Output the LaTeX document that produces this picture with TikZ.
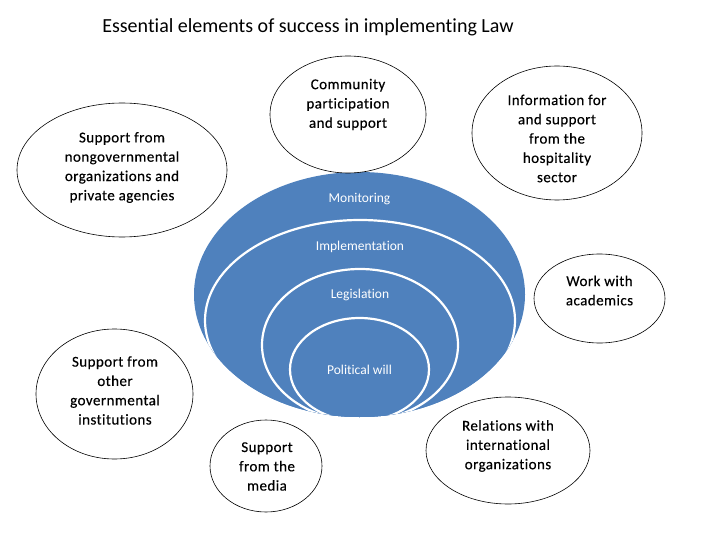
\documentclass[tikz,border=0pt]{standalone}
\usepackage{fontspec}
\setmainfont{Carlito}[Ligatures=NoCommon]
\newfontfamily\bubblefont{Carlito}[Ligatures=NoCommon,LetterSpace=3,FakeBold=0.3]
\usetikzlibrary{shapes.geometric,positioning}
\definecolor{layerblue}{RGB}{79,129,189}
\tikzset{
  bubble/.style={ellipse,draw=black,line width=0.6pt,fill=white,inner sep=0pt},
  btext/.style={align=center,font=\bubblefont\fontsize{15}{19.3}\selectfont,text=black},
  layer/.style={ellipse,fill=layerblue,draw=white,line width=2.2pt,inner sep=0pt},
  ltext/.style={font=\fontsize{13.5}{15}\selectfont,text=white},
}

\begin{document}
\begin{tikzpicture}[x=1pt,y=-1pt]
  \useasboundingbox (0,0) rectangle (720,540);
  \node[font=\fontsize{20}{22}\selectfont] (title) at (308,27) {Essential elements of success in implementing Law};

  % nested layers, all sitting on the same bottom
  \node[layer,draw=none,minimum width=331pt,minimum height=245pt] (mon) at (359.5,294.5) {};
  \begin{scope}
    \clip (359.5,294.5) ellipse (165.5pt and 122.5pt);
    \node[layer,minimum width=310pt,minimum height=201pt] (impl) at (360,320.5) {};
    \node[layer,minimum width=196pt,minimum height=152pt] (leg) at (360,345) {};
    \node[layer,minimum width=139pt,minimum height=103pt] (pol) at (359.5,369.5) {};
  \end{scope}
  \node[ltext,yshift=-28pt] (mon-t) at (mon.north) {Monitoring};
  \node[ltext,yshift=-28pt] (impl-t) at (impl.north) {Implementation};
  \node[ltext,yshift=-27pt] (leg-t) at (leg.north) {Legislation};
  \node[ltext] (pol-t) at (pol.center) {Political will};

  % surrounding bubbles
  \node[bubble,minimum width=210pt,minimum height=134pt] (ngo) at (122,170) {};
  \node[btext] (ngo-t) at (122,167.5) {Support from\\nongovernmental\\organizations and\\private agencies};
  \node[bubble,minimum width=156pt,minimum height=117pt] (comm) at (348,114.5) {};
  \node[btext] (comm-t) at (348,104.5) {Community\\participation\\and support};
  \node[bubble,minimum width=170pt,minimum height=134pt] (hosp) at (557,133) {};
  \node[btext] (hosp-t) at (557,138.5) {Information for\\and support\\from the\\hospitality\\sector};
  \node[bubble,minimum width=131pt,minimum height=89pt] (acad) at (599.5,298.5) {};
  \node[btext] (acad-t) at (599.5,290.5) {Work with\\academics};
  \node[bubble,minimum width=157pt,minimum height=130pt] (gov) at (114.5,394) {};
  \node[btext] (gov-t) at (115,390.5) {Support from\\other\\governmental\\institutions};
  \node[bubble,minimum width=112pt,minimum height=92pt] (media) at (266,466) {};
  \node[btext] (media-t) at (267,466.5) {Support\\from the\\media};
  \node[bubble,minimum width=164pt,minimum height=107pt] (intl) at (508,450.5) {};
  \node[btext] (intl-t) at (508,446) {Relations with\\international\\organizations};
\end{tikzpicture}
\end{document}
